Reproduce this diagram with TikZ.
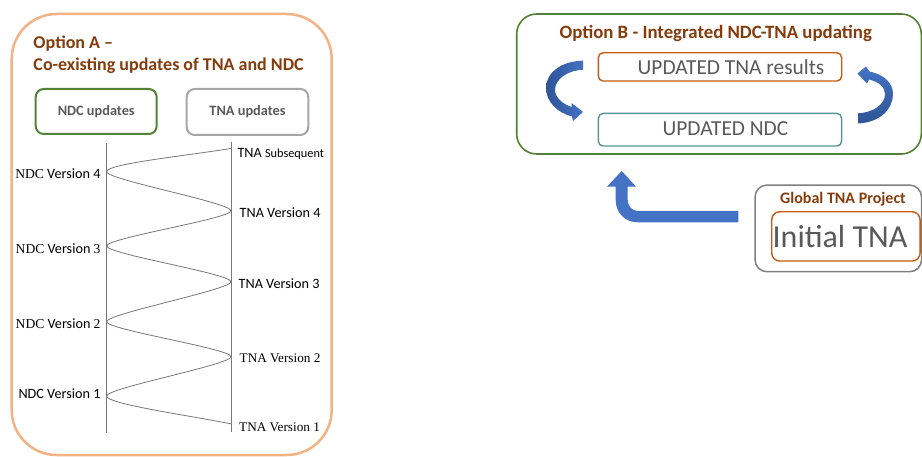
\documentclass[tikz,border=0pt]{standalone}
\usepackage{fontspec}
\setmainfont{Carlito}
\newfontfamily\serifface{Liberation Serif}
\usetikzlibrary{calc}

\definecolor{peach}{RGB}{244,177,131}
\definecolor{brownish}{RGB}{132,60,12}
\definecolor{leafgreen}{RGB}{84,130,53}
\definecolor{boxgray}{RGB}{166,166,166}
\definecolor{darkgray}{RGB}{128,128,128}
\definecolor{txtgray}{RGB}{89,89,89}
\definecolor{burnt}{RGB}{197,90,17}
\definecolor{teal}{RGB}{84,150,150}
\definecolor{linegray}{RGB}{120,120,120}
\definecolor{arrowblue}{RGB}{68,114,196}
\definecolor{arrowdark}{RGB}{47,85,151}

\tikzset{
  heading/.style={font=\bfseries\fontsize{18}{21}\selectfont, text=brownish, inner sep=0pt},
  smallbox/.style={draw, line width=2pt, rounded corners=8pt, inner sep=0pt,
                   font=\bfseries\fontsize{14.3}{16}\selectfont, text=txtgray},
  resultbox/.style={draw, line width=1.4pt, rounded corners=5pt, inner sep=0pt},
  bigtext/.style={font=\fontsize{21.4}{25}\selectfont, text=txtgray, inner sep=0pt},
  version/.style={font=\fontsize{14.2}{16}\selectfont, inner sep=0pt},
  serifversion/.style={font=\serifface\fontsize{13.2}{15}\selectfont, inner sep=0pt},
  timeline/.style={draw=linegray, line width=0.8pt},
  wave/.style={draw=linegray, line width=0.8pt},
}
\newcommand{\sr}[1]{{\serifface\fontsize{13.6}{15}\selectfont #1}}

\begin{document}
\begin{tikzpicture}[x=1pt,y=-1pt]
\useasboundingbox (0,0) rectangle (922,457);

% ---------- Option A ----------
\node[draw=peach, line width=2.5pt, rounded corners=45pt, inner sep=0pt,
      minimum width=320pt, minimum height=441pt] (optA) at (171.7,234.5) {};
\node[heading, anchor=west] (titleA1) at (33.3,43.3) {Option A –};
\node[heading, anchor=west] (titleA2) at (33.3,65.7) {Co-existing updates of TNA and NDC};

\node[smallbox, draw=leafgreen, minimum width=121pt, minimum height=45pt] (ndcup) at (96.2,111.5) {NDC updates};
\node[smallbox, draw=boxgray, minimum width=121.6pt, minimum height=46pt] (tnaup) at (247.5,112) {TNA updates};

% two time lines
\coordinate (ltop) at (106,143.3);
\coordinate (lbot) at (106,433.3);
\coordinate (rtop) at (231.7,141.7);
\coordinate (rbot) at (231.7,431.7);
\draw[timeline] (ltop) -- (lbot);
\draw[timeline] (rtop) -- (rbot);

% turning points of the alternating update path
\coordinate (ts) at (231.7,148.3);
\coordinate (n4) at (106.6,171.7);
\coordinate (t4) at (231,210.7);
\coordinate (n3) at (106.6,246);
\coordinate (t3) at (231,281.7);
\coordinate (n2) at (106.6,321.7);
\coordinate (t2) at (231,356.7);
\coordinate (n1) at (106.6,396);
\coordinate (t1) at (231.7,424);

\draw[wave] (ts) .. controls +(-45,7.5) and +(0,-8) .. (n4)
  .. controls +(0,8) and +(0,-8) .. (t4)
  .. controls +(0,8) and +(0,-8) .. (n3)
  .. controls +(0,8) and +(0,-8) .. (t3)
  .. controls +(0,8) and +(0,-8) .. (n2)
  .. controls +(0,8) and +(0,-8) .. (t2)
  .. controls +(0,8) and +(0,-8) .. (n1)
  .. controls +(0,8) and +(-45,-9) .. (t1);

% version labels
\node[version, anchor=east] (lab-n4) at (100.7,173.3) {\sr{NDC} Version 4};
\node[version, anchor=east] (lab-n3) at (100.7,249) {\sr{NDC} Version \sr{3}};
\node[version, anchor=east] (lab-n2) at (100.7,323.3) {\sr{NDC} Version \sr{2}};
\node[version, anchor=east] (lab-n1) at (100.7,393.3) {NDC Version 1};

\node[version, anchor=west] (lab-ts) at (237.3,153.5) {TNA {\fontsize{12.3}{14}\selectfont Subsequent}};
\node[version, anchor=west] (lab-t4) at (239.5,212.7) {TNA Version 4};
\node[version, anchor=west] (lab-t3) at (238.5,284) {TNA Version 3};
\node[serifversion, anchor=west] (lab-t2) at (239.5,358.3) {TNA Version 2};
\node[serifversion, anchor=west] (lab-t1) at (239,427.7) {TNA Version 1};

% ---------- Option B ----------
\node[draw=leafgreen, line width=1.6pt, rounded corners=20pt, inner sep=0pt,
      minimum width=404.6pt, minimum height=140pt] (optB) at (719,84) {};
\node[heading, font=\bfseries\fontsize{18.8}{22}\selectfont] (titleB) at (715.7,33.3) {Option B - Integrated NDC-TNA updating};

\node[resultbox, draw=burnt, minimum width=243.4pt, minimum height=28.3pt] (tnares) at (720,66.9) {};
\node[bigtext] (tnares-t) at (731,66.7) {UPDATED TNA results};
\node[resultbox, draw=teal, minimum width=243.4pt, minimum height=32.7pt] (ndcres) at (720,129.7) {};
\node[bigtext] (ndcres-t) at (725.5,128.3) {UPDATED NDC};

% curved arrow on the left: from the results down to the NDC
\path[left color=arrowdark, right color=arrowblue]
  (583,60.7) .. controls (561,61) and (546,73) .. (546,88)
  .. controls (546,102) and (558,113) .. (572,116.5)
  -- (573,121) -- (583,112) -- (571.5,103)
  -- (571.8,107) .. controls (562,104) and (555,97) .. (555,90)
  .. controls (555,80) and (566,70.5) .. (583,69.8) -- cycle;

% curved arrow on the right: from the NDC back up to the results
\path[top color=arrowblue, bottom color=arrowdark]
  (858,123.5) .. controls (880,122.5) and (893,109) .. (893,94)
  .. controls (893,83) and (884,74.5) .. (869.5,71.5)
  -- (866,66.5) -- (857.5,73.5) -- (867,83.5)
  -- (869,79.5) .. controls (879,82) and (885,87) .. (885,94)
  .. controls (885,104) and (874,112.5) .. (858,113.3) -- cycle;

% ---------- Global TNA project ----------
\node[draw=darkgray, line width=1.5pt, rounded corners=12pt, inner sep=0pt,
      minimum width=166.5pt, minimum height=86.7pt] (global) at (838.3,228.4) {};
\node[font=\bfseries\fontsize{16}{18}\selectfont, text=brownish, inner sep=0pt] (globalt) at (843,199) {Global TNA Project};
\node[draw=burnt, line width=1.4pt, rounded corners=8pt, inner sep=0pt,
      minimum width=148.3pt, minimum height=49.3pt] (initbox) at (845.9,236.4) {};
\node[font=\fontsize{32}{37}\selectfont, text=txtgray, inner sep=0pt] (initt) at (840,236.7) {Initial TNA};

% bent arrow feeding the initial assessment into option B
\fill[arrowblue]
  (738.3,211) -- (638,211) .. controls (632,211) and (627.7,206) .. (627.7,200)
  -- (627.7,186.7) -- (636,186.7) -- (621.7,171) -- (607,186.7) -- (615.7,186.7)
  -- (615.7,200) .. controls (615.7,213) and (625,222.3) .. (638,222.3)
  -- (738.3,222.3) -- cycle;
\end{tikzpicture}
\end{document}
